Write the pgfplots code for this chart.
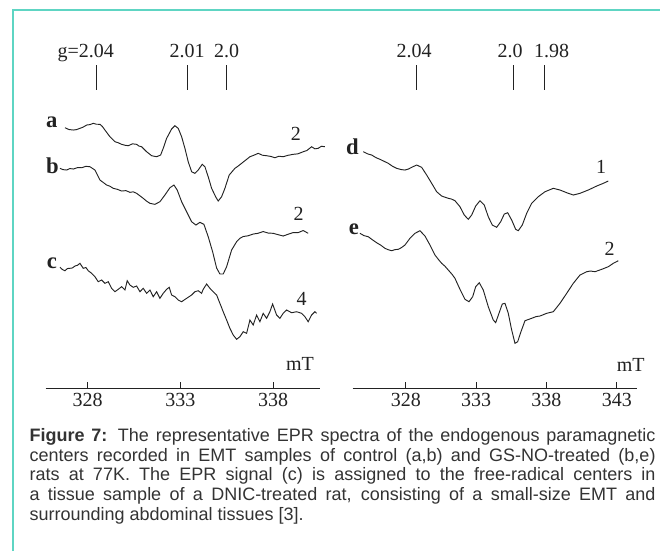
\documentclass[border=0pt]{standalone}
\usepackage{pgfplots}
\pgfplotsset{compat=1.18}
\usepackage{fontspec}
\setmainfont{Liberation Serif}
\newfontfamily\capfont{Liberation Sans}
\definecolor{frame}{HTML}{5ED5C3}
\definecolor{ink}{HTML}{222222}
\definecolor{captext}{HTML}{333333}
\newcommand\capsize{\capfont\fontsize{13.5}{14.7}\selectfont}
\newcommand\lblfont{\fontsize{15}{15}\selectfont}
\newcommand\letfont{\fontsize{17}{17}\selectfont\bfseries}

\begin{document}
\begin{tikzpicture}[x=0.75pt,y=-0.75pt]
\path[use as bounding box] (0,0) rectangle (660,551);
\draw[frame, line width=1.1pt] (13,551) -- (13,10) -- (660,10);

% ---------------- left panel ----------------
\begin{axis}[
  at={(34.275pt,-291.225pt)}, anchor=south west, scale only axis,
  width=205.7pt, height=261.2pt,
  xmin=325.74, xmax=340.52, ymin=-388.3, ymax=-40,
  axis x line*=bottom, axis y line=none, ytick=\empty,
  axis line style={ink, line width=0.8pt, -},
  xtick={328,333,338}, tick align=inside, major tick length=5pt,
  xtick style={ink, line width=0.7pt},
  xticklabel style={font=\lblfont, text=ink},
  /pgf/number format/assume math mode=true,
  clip=false,
]
% g markers
\addplot[ink, line width=0.6pt] table[x expr={328+(\thisrow{px}-87.7)/18.56}, y expr={-\thisrow{py}}] {
px py
96 65
96 89.5
};
\addplot[ink, line width=0.6pt] table[x expr={328+(\thisrow{px}-87.7)/18.56}, y expr={-\thisrow{py}}] {
px py
187.3 65
187.3 89.5
};
\addplot[ink, line width=0.6pt] table[x expr={328+(\thisrow{px}-87.7)/18.56}, y expr={-\thisrow{py}}] {
px py
226 65
226 89.5
};
% curve a
\addplot[ink, line width=0.7pt] table[x expr={328+(\thisrow{px}-87.7)/18.56}, y expr={-\thisrow{py}}] {
px py
65 127.7
69 129.5
73.3 130
76.5 129.6
80 128.3
83 127.2
86.7 125
90 124.6
93.3 123.3
96.5 124.2
100 124.3
102.5 126.5
105 130
110 136.7
115 141.7
118 142.6
121.7 144.3
125 145.2
128.3 145.7
132.5 143.8
136.7 144.3
139 146
141.7 146.7
146.7 151.7
151.7 155.7
156.7 156.7
160.7 155
163.3 148.3
166.7 138.3
171.7 129
175 125.7
178.3 128.3
181.7 136.7
185 148.3
188.3 161.7
191.7 171.7
195 173.3
198.3 170
202.3 164.3
205 166.7
208.3 176.7
211.7 188.3
215.7 196.7
218.3 201
221.7 196.7
225 188.3
229.3 175
235 168.3
238 166.2
241.7 163.3
245.5 160.3
250 156.7
254 155.2
258.3 153.3
262.5 155.2
266.7 155.7
271 156.4
275 157.7
279 156.2
283.3 156.7
288 155.3
293.3 154.3
298 153.8
303.3 151.7
307 150.5
311.7 146.7
315 148.8
318.3 148.3
321.5 146.2
325 146.7
};
% curve b
\addplot[ink, line width=0.7pt] table[x expr={328+(\thisrow{px}-87.7)/18.56}, y expr={-\thisrow{py}}] {
px py
60 168.3
63 169.6
66.7 170
70 168.5
73.3 169
77.5 167.6
81.7 167.7
86 166.3
90 166.7
95 170
100 180
103 182.2
106.7 185
110 186.2
113.3 188.3
117.5 189.3
121.7 191
126 190.6
130 192.3
133.3 191.8
136.7 193.3
143.3 198.3
146.5 201
150 203.3
155 204.3
160 201.7
165 195
170 187.7
174 185
177.3 190
181.7 201.7
186.7 211.7
191.7 221.7
196 225
200 222.3
204 224.3
208.3 236.7
212.7 251.7
216.7 268
220 274
223.3 274
226.7 266.7
231.7 250
236.7 241.7
240 238.3
243.3 236.5
248 235.8
253.3 234
258 233.3
263.3 231.5
268 233
273.3 233.3
278 234.6
283.3 236
288 234.3
293.3 232.5
298 232.7
303.3 230.5
308.3 233.3
};
% curve c
\addplot[ink, line width=0.7pt] table[x expr={328+(\thisrow{px}-87.7)/18.56}, y expr={-\thisrow{py}}] {
px py
60 267.3
62.5 269.5
65 270.7
67.5 268.5
70 268.3
72.5 267.9
75 266
77.5 265.3
80 263.3
83.3 268.3
86 267.5
88.3 270.7
91.7 273.3
95 276.7
98.3 281.7
101.7 280
105 283.3
108.3 281.7
111.7 288.3
115 291.7
118.3 289.3
121.7 286.7
125 290
127.3 280.7
130 285
133.3 287.3
136.7 286
140 291.7
143.3 288.3
146.7 293.3
150 290
153.3 296.7
156.7 291.7
160 298.3
163.3 293.3
166.7 289.3
169.3 287.3
171.7 295
175 296.7
178.3 300
181.7 301.7
186.7 298.3
191.7 295
195 291.7
198.3 290.7
201.7 293.3
203.3 289.3
206.7 284
210 288.3
213.3 291.7
216.7 295
220 303.3
223.3 311.7
226.7 320
230 328.3
233.3 335
236.7 339.3
240 336.7
243.3 331.7
246.7 333.3
250 320
253.3 325
256.7 315
260 321.7
263.3 313.3
266.7 318.3
270 311.7
272.7 304
276.7 315
280 318.3
283.3 313.3
286.7 310
291.7 312.7
296.7 311.7
301.7 313.3
305 316.7
308.3 321.7
311.7 315
315 311.7
316.7 313.3
};
\end{axis}

% ---------------- right panel ----------------
\begin{axis}[
  at={(264.525pt,-291.225pt)}, anchor=south west, scale only axis,
  width=213pt, height=261.2pt,
  xmin=324.21, xmax=344.42, ymin=-388.3, ymax=-40,
  axis x line*=bottom, axis y line=none, ytick=\empty,
  axis line style={ink, line width=0.8pt, -},
  xtick={328,333,338,343}, tick align=inside, major tick length=5pt,
  xtick style={ink, line width=0.7pt},
  xticklabel style={font=\lblfont, text=ink},
  /pgf/number format/assume math mode=true,
  clip=false,
]
\addplot[ink, line width=0.6pt] table[x expr={328+(\thisrow{px}-406)/14.05}, y expr={-\thisrow{py}}] {
px py
416 65
416 90
};
\addplot[ink, line width=0.6pt] table[x expr={328+(\thisrow{px}-406)/14.05}, y expr={-\thisrow{py}}] {
px py
513.3 65
513.3 90
};
\addplot[ink, line width=0.6pt] table[x expr={328+(\thisrow{px}-406)/14.05}, y expr={-\thisrow{py}}] {
px py
544.3 65
544.3 90
};
% curve d
\addplot[ink, line width=0.7pt] table[x expr={328+(\thisrow{px}-406)/14.05}, y expr={-\thisrow{py}}] {
px py
363.3 151.7
367.5 153.8
371.7 155
376 157.6
380 159.3
384 161.2
388.3 163.3
392.5 166.2
396.7 168.3
401 169.5
405 170
408.5 169
411.7 167.3
416.7 165
421.7 167.3
426.7 175
431.7 183.3
436.7 191.7
441.7 196
445 197.2
448.3 198.3
451.5 199
455 200.7
460 206.7
464.3 215
468.3 219.3
471.7 215
475.7 206
480 200.7
484.3 205
488.3 216.7
492.3 225
496.7 227.3
500.7 221.7
504.3 214
507.7 212.7
511.7 220
515.7 229.3
518.3 230.7
522.3 225
526.7 213.3
531.7 203.3
538.3 196.7
545 191.7
553.3 188.3
560 190
566.7 192.7
573.3 195
580 193.3
588.3 190
596.7 186
603.3 183.3
608.3 181
};
% curve e
\addplot[ink, line width=0.7pt] table[x expr={328+(\thisrow{px}-406)/14.05}, y expr={-\thisrow{py}}] {
px py
360 233.3
364 235.6
368.3 236.7
372.5 239.8
376.7 242.7
381 245.3
385 248.3
388.5 249.8
391.7 250.7
395 249.6
398.3 249.3
401.5 247.6
405 245
410 238.3
415 233.3
420 230.7
425 236
430 245
435 255
438.5 259.5
441.7 263.3
445 266.2
448.3 270
452 274.2
455 278.3
460 289.3
465 299.3
469 301.7
472.7 296.7
475.7 286.7
479.3 282.7
483.3 290
488.3 306.7
493.3 320
495.7 322.7
499 313.3
502.3 304
505 303.3
508.3 313.3
511.7 330
515 343.3
517.7 341.7
521 331.7
525 320.7
531.7 318.3
536 316.6
540 316
546.7 313.3
553.3 311.7
560 303.3
566.7 293.3
573.3 283.3
580 275
586.7 271.7
590.5 271
595 271.7
601.7 269.3
608.3 266.7
613.3 263.3
618.3 260.7
};
\end{axis}

% ---------------- annotations ----------------
\begin{scope}[every node/.style={inner sep=0, text=ink}]
\node[anchor=base, font=\lblfont] at (85.8,57.3) {g=2.04};
\node[anchor=base, font=\lblfont] at (187,57.3) {2.01};
\node[anchor=base, font=\lblfont] at (226.7,57.3) {2.0};
\node[anchor=base, font=\lblfont] at (414,57.3) {2.04};
\node[anchor=base, font=\lblfont] at (510,57.3) {2.0};
\node[anchor=base, font=\lblfont] at (551.7,57.3) {1.98};

\node[anchor=base, font=\letfont] at (51.7,127.3) {a};
\node[anchor=base, font=\letfont] at (52.5,173.3) {b};
\node[anchor=base, font=\letfont] at (52,268.3) {c};
\node[anchor=base, font=\letfont] at (352.5,154) {d};
\node[anchor=base, font=\letfont] at (353.8,234) {e};

\node[anchor=base, font=\lblfont] at (295.8,140) {2};
\node[anchor=base, font=\lblfont] at (298.7,220.7) {2};
\node[anchor=base, font=\lblfont] at (301.7,305) {4};
\node[anchor=base, font=\lblfont] at (601,173.3) {1};
\node[anchor=base, font=\lblfont] at (609.5,255) {2};
\node[anchor=base, font=\lblfont] at (300,370.7) {mT};
\node[anchor=base, font=\lblfont] at (630.8,371.7) {mT};
\end{scope}

% ---------------- caption ----------------
\begin{scope}[every node/.style={inner sep=0, anchor=base west, text=captext, font=\capsize}]
\node at (29.3,441.7) {\makebox[469.5pt][s]{\textbf{Figure 7:} The representative EPR spectra of the endogenous paramagnetic}};
\node at (29.3,461) {\makebox[469.5pt][s]{centers recorded in EMT samples of control (a,b) and GS-NO-treated (b,e)}};
\node at (29.3,480.7) {\makebox[469.5pt][s]{rats at 77K. The EPR signal (c) is assigned to the free-radical centers in}};
\node at (29.3,500.2) {\makebox[469.5pt][s]{a tissue sample of a DNIC-treated rat, consisting of a small-size EMT and}};
\node at (29.3,520) {surrounding abdominal tissues [3].};
\end{scope}
\end{tikzpicture}
\end{document}
